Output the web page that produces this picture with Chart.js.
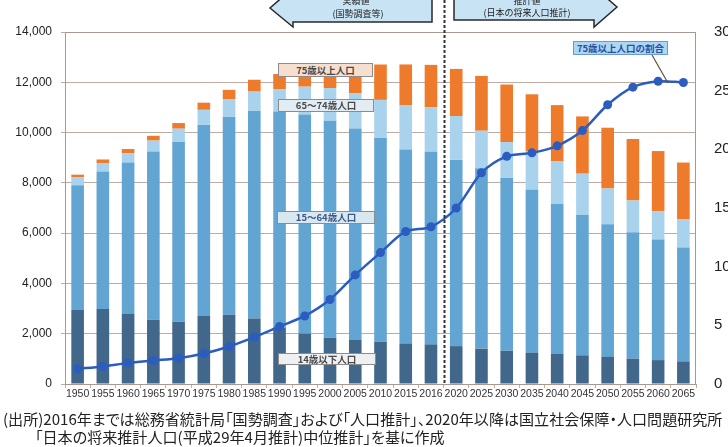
<!DOCTYPE html>
<html><head><meta charset="utf-8">
<script src="https://cdn.jsdelivr.net/npm/chart.js@4"></script>
<style>
html,body{margin:0;padding:0;background:#fff;}
#wrap{position:relative;width:728px;height:447px;overflow:hidden;background:#fff;}
#c{position:absolute;left:0;top:0;}
#ov{position:absolute;left:0;top:0;}
.lbl{position:absolute;box-sizing:border-box;border:1px solid #8c8c8c;font-family:"Noto Sans CJK JP";font-weight:bold;font-size:9.5px;text-align:center;color:#4a4a4a;white-space:nowrap;}
.foot{position:absolute;font-family:"Noto Sans CJK JP";font-size:15px;line-height:16px;color:#222;white-space:nowrap;transform-origin:left top;font-feature-settings:"palt";}
</style></head>
<body><div id="wrap">
<canvas id="c" width="728" height="447" style="width:728px;height:447px"></canvas>
<svg id="ov" width="728" height="447" xmlns="http://www.w3.org/2000/svg">
  <polygon points="432,-10 432,22 293,22 293,27 270,8 293,-12" fill="#c8e4f4" stroke="#2a2a2a" stroke-width="1.5"/>
  <polygon points="454,-10 454,20 594,20 594,27 617,7 594,-13" fill="#c8e4f4" stroke="#2a2a2a" stroke-width="1.5"/>
  <text x="356" y="4" font-family="Noto Sans CJK JP" font-size="9" fill="#222" text-anchor="middle">実績値</text>
  <text x="358" y="17" font-family="Noto Sans CJK JP" font-size="9" fill="#222" text-anchor="middle">(国勢調査等)</text>
  <text x="527" y="4" font-family="Noto Sans CJK JP" font-size="9" fill="#222" text-anchor="middle">推計値</text>
  <text x="527" y="16" font-family="Noto Sans CJK JP" font-size="9" fill="#222" text-anchor="middle">(日本の将来人口推計)</text>
  <line x1="652" y1="55" x2="668" y2="83" stroke="#5a5535" stroke-width="1.2"/>
</svg>
<div class="lbl" style="left:278px;top:63px;width:95px;height:14px;line-height:12px;background:#f7dfcf;">75歳以上人口</div>
<div class="lbl" style="left:278px;top:99px;width:96px;height:13px;line-height:11px;background:#e2ecf3;">65〜74歳人口</div>
<div class="lbl" style="left:277px;top:211px;width:98px;height:13px;line-height:11px;background:#d9e7f0;color:#3a5a8a;">15〜64歳人口</div>
<div class="lbl" style="left:278px;top:353px;width:98px;height:12px;line-height:10px;background:#eef0f2;">14歳以下人口</div>
<div class="lbl" style="left:573px;top:41px;width:95px;height:14px;line-height:12px;background:#acd6f4;border-color:#6a9ad0;color:#2a4ea0;">75歳以上人口の割合</div>
<div class="foot" id="f1" style="left:3px;top:411px;">(出所)2016年までは総務省統計局「国勢調査」および「人口推計」、2020年以降は国立社会保障・人口問題研究所</div>
<div class="foot" id="f2" style="left:35px;top:429px;">「日本の将来推計人口(平成29年4月推計)中位推計」を基に作成</div>
</div>
<script>
const years = ['1950','1955','1960','1965','1970','1975','1980','1985','1990','1995','2000','2005','2010','2015','2016','2020','2025','2030','2035','2040','2045','2050','2055','2060','2065'];
const age0to14 = [2943,2980,2807,2553,2482,2722,2751,2603,2249,2001,1847,1752,1680,1595,1578,1507,1407,1321,1246,1194,1138,1077,1012,951,898];
const age15to64 = [4966,5473,6000,6692,7157,7581,7883,8251,8590,8716,8622,8409,8103,7728,7656,7406,7170,6875,6494,5978,5584,5275,5028,4793,4529];
const age65to74 = [309,338,375,437,516,602,699,776,892,1109,1301,1407,1517,1755,1768,1747,1497,1428,1522,1681,1643,1424,1258,1133,1133];
const age75plus = [107,139,163,189,224,284,366,471,597,717,900,1160,1407,1632,1691,1872,2180,2288,2260,2239,2277,2417,2446,2387,2248];
const ratio75 = [1.3,1.5,1.8,2.0,2.2,2.6,3.2,4.0,4.9,5.8,7.2,9.3,11.2,13.0,13.4,15.0,18.0,19.4,19.7,20.3,21.6,23.8,25.3,25.8,25.7];
const leftTicks = {min:0, max:14000, step:2000};
const rightTicks = {min:0, max:30, step:5};

const frame = {
  id:'frame',
  afterDatasetsDraw(chart){
    const {ctx, chartArea:a, scales:{x}} = chart;
    ctx.save();
    ctx.strokeStyle='#a89890'; ctx.lineWidth=1;
    ctx.strokeRect(a.left+0.5, a.top+0.5, a.right-a.left-1, a.bottom-a.top);
    const dx = Math.round((x.getPixelForValue(14)+x.getPixelForValue(15))/2)+0.5;
    ctx.strokeStyle='#333'; ctx.lineWidth=2; ctx.setLineDash([3,2]);
    ctx.beginPath(); ctx.moveTo(dx,0); ctx.lineTo(dx,a.bottom); ctx.stroke();
    ctx.restore();
  }
};

const barBase = {type:'bar', yAxisID:'y', stack:'pop', barPercentage:0.5, categoryPercentage:1.0, order:1, borderWidth:0};
new Chart(document.getElementById('c'), {
  data:{
    labels: years,
    datasets:[
      {type:'line', label:'75歳以上人口の割合', data:ratio75, yAxisID:'y2', borderColor:'#2b5cc0', backgroundColor:'#2b5cc0', borderWidth:2.5, pointRadius:4.5, pointBackgroundColor:'#2b5cc0', pointBorderWidth:0, tension:0.3, order:0},
      {...barBase, label:'14歳以下人口', data:age0to14, backgroundColor:'#41678a'},
      {...barBase, label:'15〜64歳人口', data:age15to64, backgroundColor:'#62a5d3'},
      {...barBase, label:'65〜74歳人口', data:age65to74, backgroundColor:'#a9d2ec'},
      {...barBase, label:'75歳以上人口', data:age75plus, backgroundColor:'#ee7a2b'}
    ]
  },
  options:{
    responsive:false, animation:false,
    layout:{padding:{top:32,left:0,right:0,bottom:0}},
    plugins:{legend:{display:false}, tooltip:{enabled:false}},
    scales:{
      x:{stacked:true, offset:true,
        grid:{display:true, drawOnChartArea:false, offset:true, color:'#d4a888', tickLength:4},
        border:{color:'#a89890'},
        ticks:{autoSkip:false, maxRotation:0, minRotation:0, padding:0, color:'#333', font:{size:10.5, family:'Liberation Sans'}},
        afterFit(s){s.height=63;}
      },
      y:{stacked:true, min:leftTicks.min, max:leftTicks.max,
        ticks:{stepSize:leftTicks.step, padding:9, color:'#222', font:{size:12, family:'Liberation Sans'}, callback:v=>v.toLocaleString('en-US')},
        grid:{color:'#bcaca4', tickLength:4},
        border:{color:'#a89890'},
        afterFit(s){s.width=65;}
      },
      y2:{position:'right', min:rightTicks.min, max:rightTicks.max,
        ticks:{stepSize:rightTicks.step, padding:10, color:'#222', font:{size:15, family:'Liberation Sans'}},
        grid:{display:false}, border:{display:false},
        afterFit(s){s.width=32;}
      }
    }
  },
  plugins:[frame]
});

const f1=document.getElementById('f1'), f2=document.getElementById('f2');
const sc = 719 / f1.scrollWidth;
f1.style.transform = 'scaleX('+sc+')';
f2.style.transform = 'scaleX('+sc+')';
</script>
</body></html>
